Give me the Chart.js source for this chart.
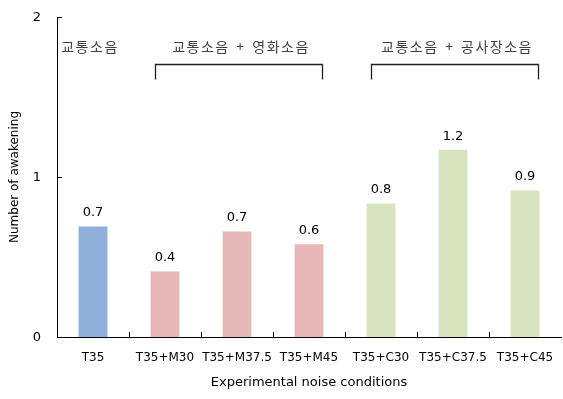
<!DOCTYPE html>
<html>
<head>
<meta charset="utf-8">
<script src="https://cdn.jsdelivr.net/npm/chart.js@4"></script>
<style>
  html, body { margin: 0; padding: 0; background: #fff; }
  #wrap { width: 563px; height: 399px; }
</style>
</head>
<body>
<div id="wrap"><canvas id="c" width="563" height="399"></canvas></div>
<script>
// Awakenings per noise condition
const categories = ['T35', 'T35+M30', 'T35+M37.5', 'T35+M45', 'T35+C30', 'T35+C37.5', 'T35+C45'];
const awakenings = [0.69, 0.41, 0.66, 0.58, 0.835, 1.17, 0.915];
const barColors = ['#8eb0da', '#e6b9b8', '#e6b9b8', '#e6b9b8', '#d7e4bd', '#d7e4bd', '#d7e4bd'];
const yTicks = [0, 1, 2];

// Group captions: text, first and last category index, whether bracketed
const groups = [
  { text: '교통소음', from: 0, to: 0, bracket: false },
  { text: '교통소음 + 영화소음', from: 1, to: 3, bracket: true },
  { text: '교통소음 + 공사장소음', from: 4, to: 6, bracket: true }
];

const latin = 'DejaVu Sans';
const korean = '"Noto Sans CJK KR", sans-serif';

const decor = {
  id: 'decor',
  afterDraw(chart) {
    const { ctx, chartArea: a, scales: { x, y } } = chart;
    ctx.save();
    ctx.strokeStyle = '#000';
    ctx.lineWidth = 1;
    // value axis: inward tick marks and labels
    ctx.fillStyle = '#000';
    ctx.font = '13px ' + latin;
    ctx.textAlign = 'right';
    ctx.textBaseline = 'middle';
    yTicks.forEach(v => {
      const py = Math.round(y.getPixelForValue(v)) + 0.5;
      ctx.beginPath();
      ctx.moveTo(a.left, py);
      ctx.lineTo(a.left + 5, py);
      ctx.stroke();
      ctx.fillText(String(v), a.left - 16, py);
    });
    // upward tick marks between categories
    for (let i = 0; i < categories.length - 1; i++) {
      const px = Math.round((x.getPixelForValue(i) + x.getPixelForValue(i + 1)) / 2) + 0.5;
      ctx.beginPath();
      ctx.moveTo(px, a.bottom);
      ctx.lineTo(px, a.bottom - 5);
      ctx.stroke();
    }
    // value labels
    ctx.font = '13px ' + latin;
    ctx.textAlign = 'center';
    ctx.textBaseline = 'bottom';
    const meta = chart.getDatasetMeta(0);
    meta.data.forEach((bar, i) => {
      ctx.fillText(awakenings[i].toFixed(1), bar.x, bar.y - 7);
    });
    // group captions and brackets
    ctx.font = '14px ' + korean;
    ctx.letterSpacing = '1.5px';
    ctx.wordSpacing = '2px';
    ctx.fillStyle = '#404040';
    ctx.strokeStyle = '#222';
    ctx.lineWidth = 1.3;
    const yText = y.getPixelForValue(1.8125);
    const yTop = Math.round(y.getPixelForValue(1.705)) + 0.5;
    const yBot = y.getPixelForValue(1.61);
    groups.forEach(g => {
      const x0 = x.getPixelForValue(g.from);
      const x1 = x.getPixelForValue(g.to);
      ctx.textBaseline = 'middle';
      ctx.fillText(g.text, (x0 + x1) / 2 + (g.bracket ? 4 : -3), yText);
      if (g.bracket) {
        const l = Math.round(x0 - 10) + 0.5;
        const r = Math.round(x1 + 13) + 0.5;
        ctx.beginPath();
        ctx.moveTo(l, yBot);
        ctx.lineTo(l, yTop);
        ctx.lineTo(r, yTop);
        ctx.lineTo(r, yBot);
        ctx.stroke();
      }
    });
    ctx.restore();
  }
};

new Chart(document.getElementById('c'), {
  type: 'bar',
  data: {
    labels: categories,
    datasets: [{
      data: awakenings,
      backgroundColor: barColors,
      borderWidth: 0,
      categoryPercentage: 1,
      barPercentage: 0.4
    }]
  },
  options: {
    responsive: false,
    animation: false,
    events: [],
    layout: { padding: { top: 17, right: 2, left: 0, bottom: 0 } },
    plugins: { legend: { display: false }, tooltip: { enabled: false } },
    scales: {
      x: {
        grid: { display: false },
        border: { display: true, color: '#000', width: 1 },
        ticks: { color: '#000', font: { family: latin, size: 12 }, padding: 6, maxRotation: 0, autoSkip: false },
        title: { display: true, text: 'Experimental noise conditions', color: '#000', font: { family: latin, size: 13 }, padding: { top: 7, bottom: 9 } },
        afterFit(s) { s.height = 62; }
      },
      y: {
        min: 0, max: 2,
        afterBuildTicks(s) { s.ticks = yTicks.map(v => ({ value: v })); },
        grid: { display: false },
        border: { display: true, color: '#000', width: 1 },
        ticks: { display: false },
        title: { display: true, text: 'Number of awakening', color: '#000', font: { family: latin, size: 12 }, padding: { top: 8, bottom: 0 } },
        afterFit(s) { s.width = 57; }
      }
    }
  },
  plugins: [decor]
});
</script>
</body>
</html>
